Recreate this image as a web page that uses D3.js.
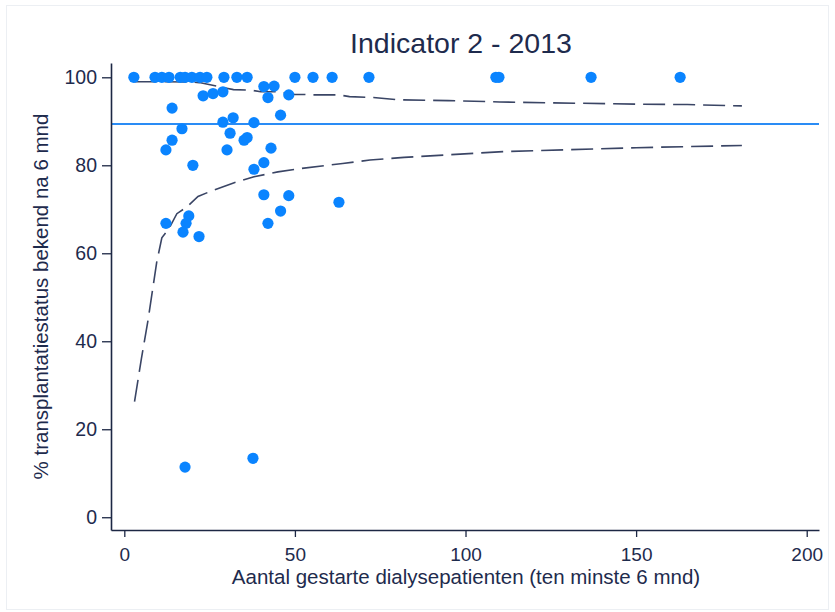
<!DOCTYPE html>
<html>
<head>
<meta charset="utf-8">
<script src="https://cdn.jsdelivr.net/npm/d3@7"></script>
<style>
  html, body { margin: 0; padding: 0; background: #fff; }
  svg { display: block; }
  text { font-family: "Liberation Sans", Arial, "DejaVu Sans", sans-serif; fill: #1e2b4d; }
</style>
</head>
<body>
<svg id="chart" width="835" height="612"></svg>
<script>
// ---- data ----
const titleText = "Indicator 2 - 2013";
const xLabel = "Aantal gestarte dialysepatienten (ten minste 6 mnd)";
const yLabel = "% transplantatiestatus bekend na 6 mnd";
const xTicks = [0, 50, 100, 150, 200];
const yTicks = [0, 20, 40, 60, 80, 100];

// centres: number of patients
const centreN = [
  2.8, 9.0, 11.0, 13.1, 16.4, 17.8, 19.8, 22.2, 24.2, 29.2, 33.0, 36.0, 50.0, 55.3, 60.9, 71.7, 108.9, 109.8, 136.8, 162.9,
  40.9, 43.9, 42.1, 23.1, 26.0, 28.9, 48.2, 14.0, 45.8, 28.9, 31.9, 38.0, 16.9, 31.0, 14.0, 35.1, 36.0,
  12.2, 30.1, 43.0, 20.1, 38.0, 40.9,
  12.2, 18.9, 18.1, 17.2, 21.9, 40.9, 48.2, 45.8, 42.1, 62.9,
  17.8, 37.7
];
// centres: % transplant status known
const centrePct = [
  100, 100, 100, 100, 100, 100, 100, 100, 100, 100, 100, 100, 100, 100, 100, 100, 100, 100, 100, 100,
  97.9, 98.0, 95.4, 95.8, 96.3, 96.7, 96.0, 93.0, 91.4, 89.8, 90.8, 89.7, 88.3, 87.3, 85.7, 85.7, 86.3,
  83.5, 83.5, 83.9, 80.0, 79.1, 80.6,
  66.8, 68.5, 66.8, 64.8, 63.8, 73.3, 73.1, 69.6, 66.8, 71.6,
  11.4, 13.4
];

const overallMean = 89.4;

// funnel limits
const upperX = [3, 10, 20, 22, 27, 32, 37, 40, 45, 50, 53, 55, 63, 66, 73, 80, 95, 110, 125, 150, 165, 181];
const upperY = [99.0, 99.0, 98.9, 98.8, 98.0, 97.2, 97.1, 96.7, 96.7, 96.1, 96.1, 96.0, 96.0, 95.6, 95.4, 94.9, 94.7, 94.4, 94.2, 93.9, 93.8, 93.5];
const lowerX = [3, 5, 7, 9.5, 11, 13, 15.4, 18.3, 21.6, 25, 32, 38, 45, 52, 64, 72, 82, 111, 150, 181];
const lowerY = [26.3, 36, 45, 58, 63.5, 65.5, 69, 70.5, 72.9, 74, 76, 77.4, 78.5, 79.3, 80.4, 81.2, 81.8, 83.1, 84.0, 84.5];

// ---- drawing ----
const svg = d3.select("#chart");
const textCol = "#1e2b4d";
const axisCol = "#1c2744";

// faint outer frame
svg.append("rect").attr("x", 6.5).attr("y", 5.5).attr("width", 822).attr("height", 604)
  .attr("fill", "none").attr("stroke", "#eceff3").attr("stroke-width", 1);

const x = d3.scaleLinear().domain([-3.9, 203.6]).range([111, 819]);
const y = d3.scaleLinear().domain([-2.9, 103.25]).range([530, 63]);

// reference line (overall mean)
svg.append("line")
  .attr("x1", x.range()[0]).attr("x2", x.range()[1])
  .attr("y1", y(overallMean)).attr("y2", y(overallMean))
  .attr("stroke", "#2a8cf5").attr("stroke-width", 2);

// funnel lines
const lineGen = d3.line().x(d => x(d[0])).y(d => y(d[1]));
[[upperX, upperY], [lowerX, lowerY]].forEach(([xs, ys]) => {
  svg.append("path")
    .datum(xs.map((v, i) => [v, ys[i]]))
    .attr("d", lineGen)
    .attr("fill", "none")
    .attr("stroke", "#3a4565")
    .attr("stroke-width", 1.6)
    .attr("stroke-dasharray", "22,8");
});

// points
svg.append("g").selectAll("circle")
  .data(centreN.map((v, i) => [v, centrePct[i]]))
  .join("circle")
  .attr("cx", d => x(d[0]))
  .attr("cy", d => y(d[1]))
  .attr("r", 5.6)
  .attr("fill", "#0a84ff");

// axes
const xAxis = svg.append("g")
  .attr("transform", "translate(0,530)")
  .call(d3.axisBottom(x).tickValues(xTicks).tickSize(7).tickSizeOuter(0).tickFormat(d3.format("d")));
xAxis.select(".domain").attr("stroke", axisCol).attr("stroke-width", 1.6);
xAxis.selectAll(".tick line").attr("stroke", axisCol).attr("stroke-width", 1.3);
xAxis.selectAll(".tick text").attr("y", 31).attr("dy", 0)
  .style("font-size", "19px").attr("fill", textCol);

const yAxis = svg.append("g")
  .attr("transform", "translate(111,0)")
  .call(d3.axisLeft(y).tickValues(yTicks).tickSize(9).tickPadding(5).tickSizeOuter(0).tickFormat(d3.format("d")));
yAxis.select(".domain").attr("stroke", axisCol).attr("stroke-width", 1.6);
yAxis.selectAll(".tick line").attr("stroke", axisCol).attr("stroke-width", 1.3);
yAxis.selectAll(".tick text").style("font-size", "19.5px").attr("fill", textCol);

svg.selectAll(".tick text").style("font-family", '"Liberation Sans", Arial, sans-serif');

// title and axis labels
svg.append("text").attr("x", 461).attr("y", 53).attr("text-anchor", "middle")
  .style("font-size", "28.5px").text(titleText);

svg.append("text").attr("x", 466).attr("y", 584).attr("text-anchor", "middle")
  .style("font-size", "20.5px").text(xLabel);

svg.append("text").attr("transform", "translate(48,296.5) rotate(-90)")
  .attr("text-anchor", "middle")
  .style("font-size", "20.5px").text(yLabel);
</script>
</body>
</html>
